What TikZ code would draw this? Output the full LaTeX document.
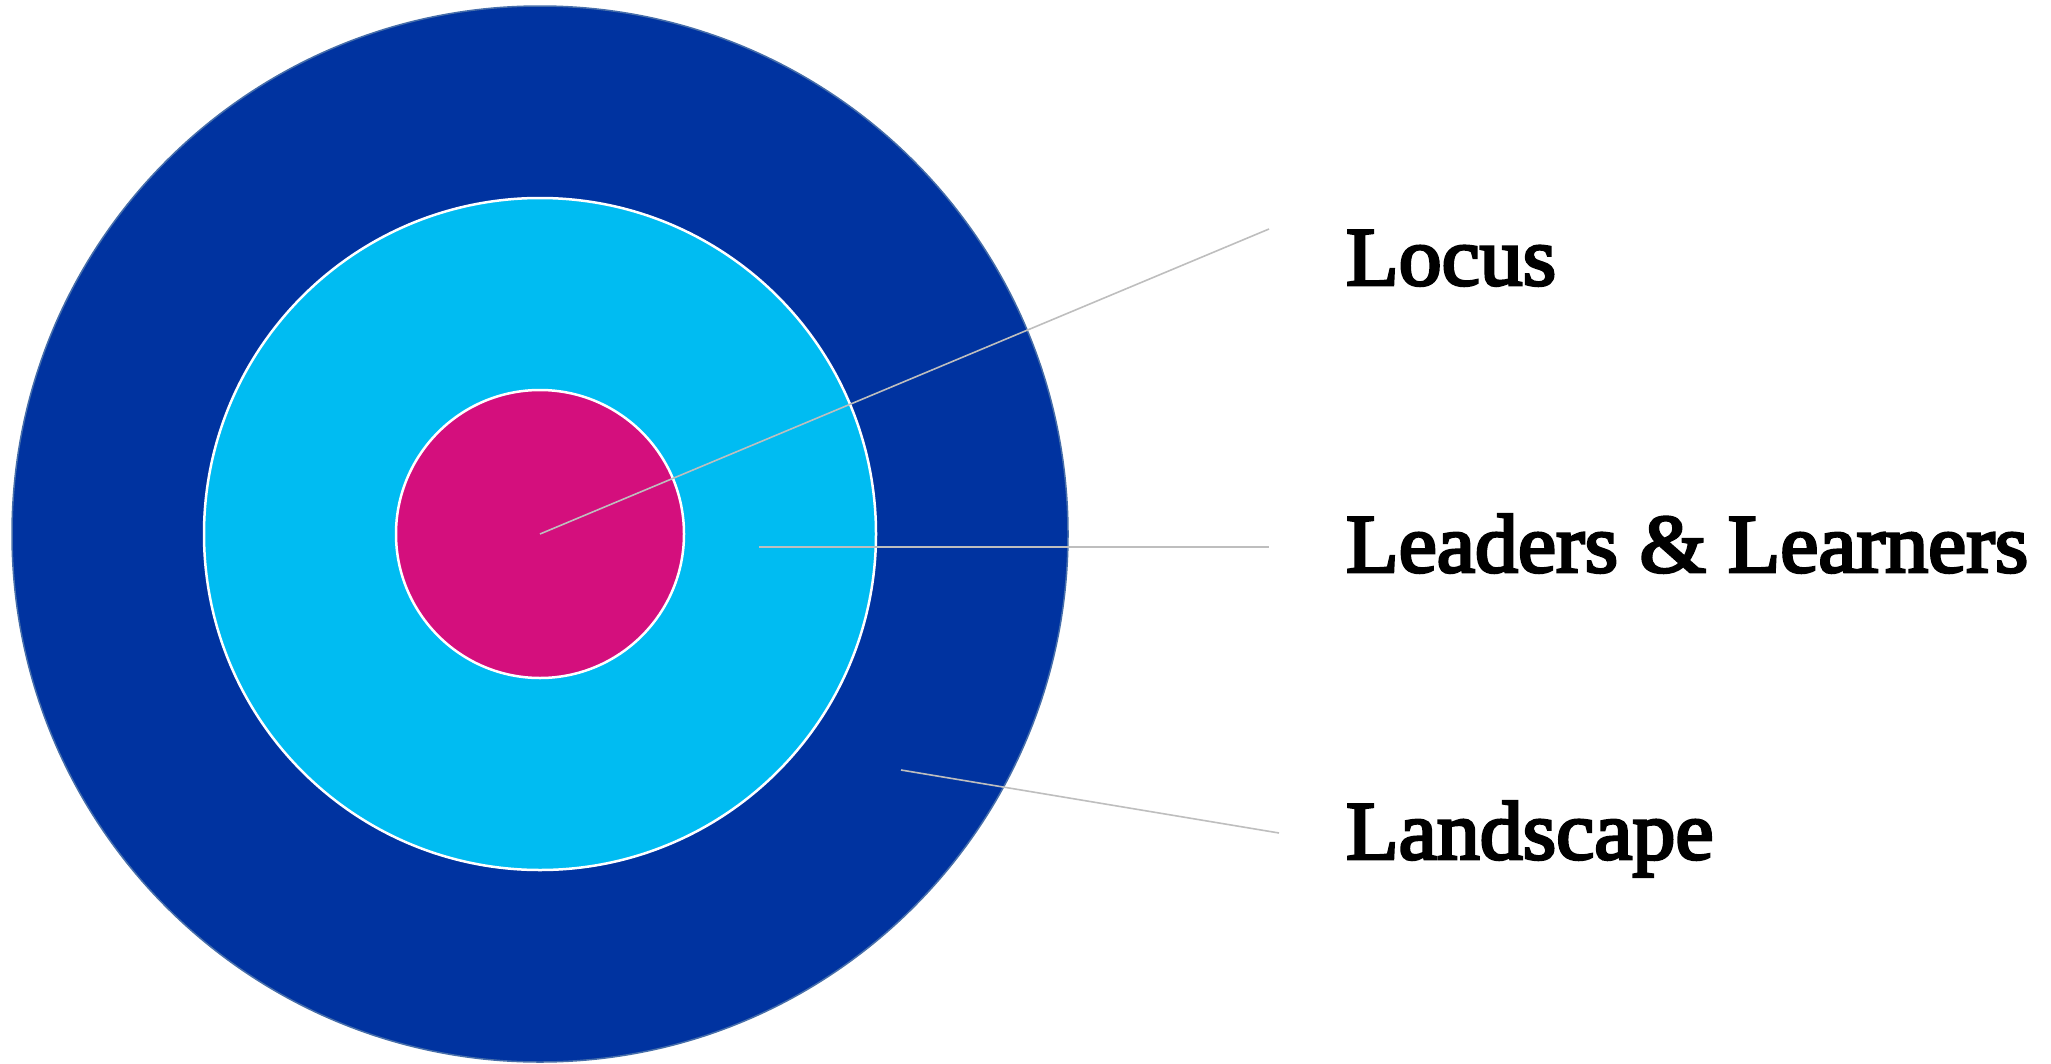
\documentclass[tikz,border=0pt]{standalone}
\usepackage{fontspec}
\setmainfont{Liberation Serif}
\newfontfamily\lblfont{Liberation Serif}[FakeBold=3.5, FakeStretch=1.035]
\usetikzlibrary{positioning}
\definecolor{landblue}{RGB}{0,51,160}
\definecolor{leadcyan}{RGB}{0,188,242}
\definecolor{locmag}{RGB}{212,15,125}
\definecolor{rimblue}{RGB}{70,110,170}
\definecolor{pointer}{RGB}{190,190,190}

\begin{document}
\begin{tikzpicture}[x=1pt, y=-1pt,
	ring/.style={circle, inner sep=0pt},
	lbl/.style={anchor=base west, inner sep=0pt, font=\fontsize{83}{100}\lblfont},
	ptr/.style={draw=pointer, line width=1.6pt}]
				\useasboundingbox (0,0) rectangle (2051,1063);
				\node[ring, fill=landblue, draw=rimblue, line width=1.5pt, minimum size=1056pt] (Land) at (540,534) {};
				\node[ring, fill=leadcyan, draw=white, line width=2.5pt, minimum size=672pt] (Lead) at (540,534) {};
				\node[ring, fill=locmag, draw=white, line width=2.5pt, minimum size=288pt] (Loc) at (540,534) {};
				
				\coordinate (P1) at (540,534);
				\coordinate (P2) at (759,547);
				\coordinate (P3) at (901,770);
				\coordinate (E1) at (1269,229);
				\coordinate (E2) at (1269,547);
				\coordinate (E3) at (1279,833);
				
				\node[lbl] (T1) at (1346,285) {Locus};
				\node[lbl] (T2) at (1346,572) {Leaders \& Learners};
				\node[lbl] (T3) at (1346,859) {Landscape};
				
				\draw[ptr] (P1) -- (E1);
				\draw[ptr] (P2) -- (E2);
				\draw[ptr] (P3) -- (E3);
			\end{tikzpicture}
\end{document}
